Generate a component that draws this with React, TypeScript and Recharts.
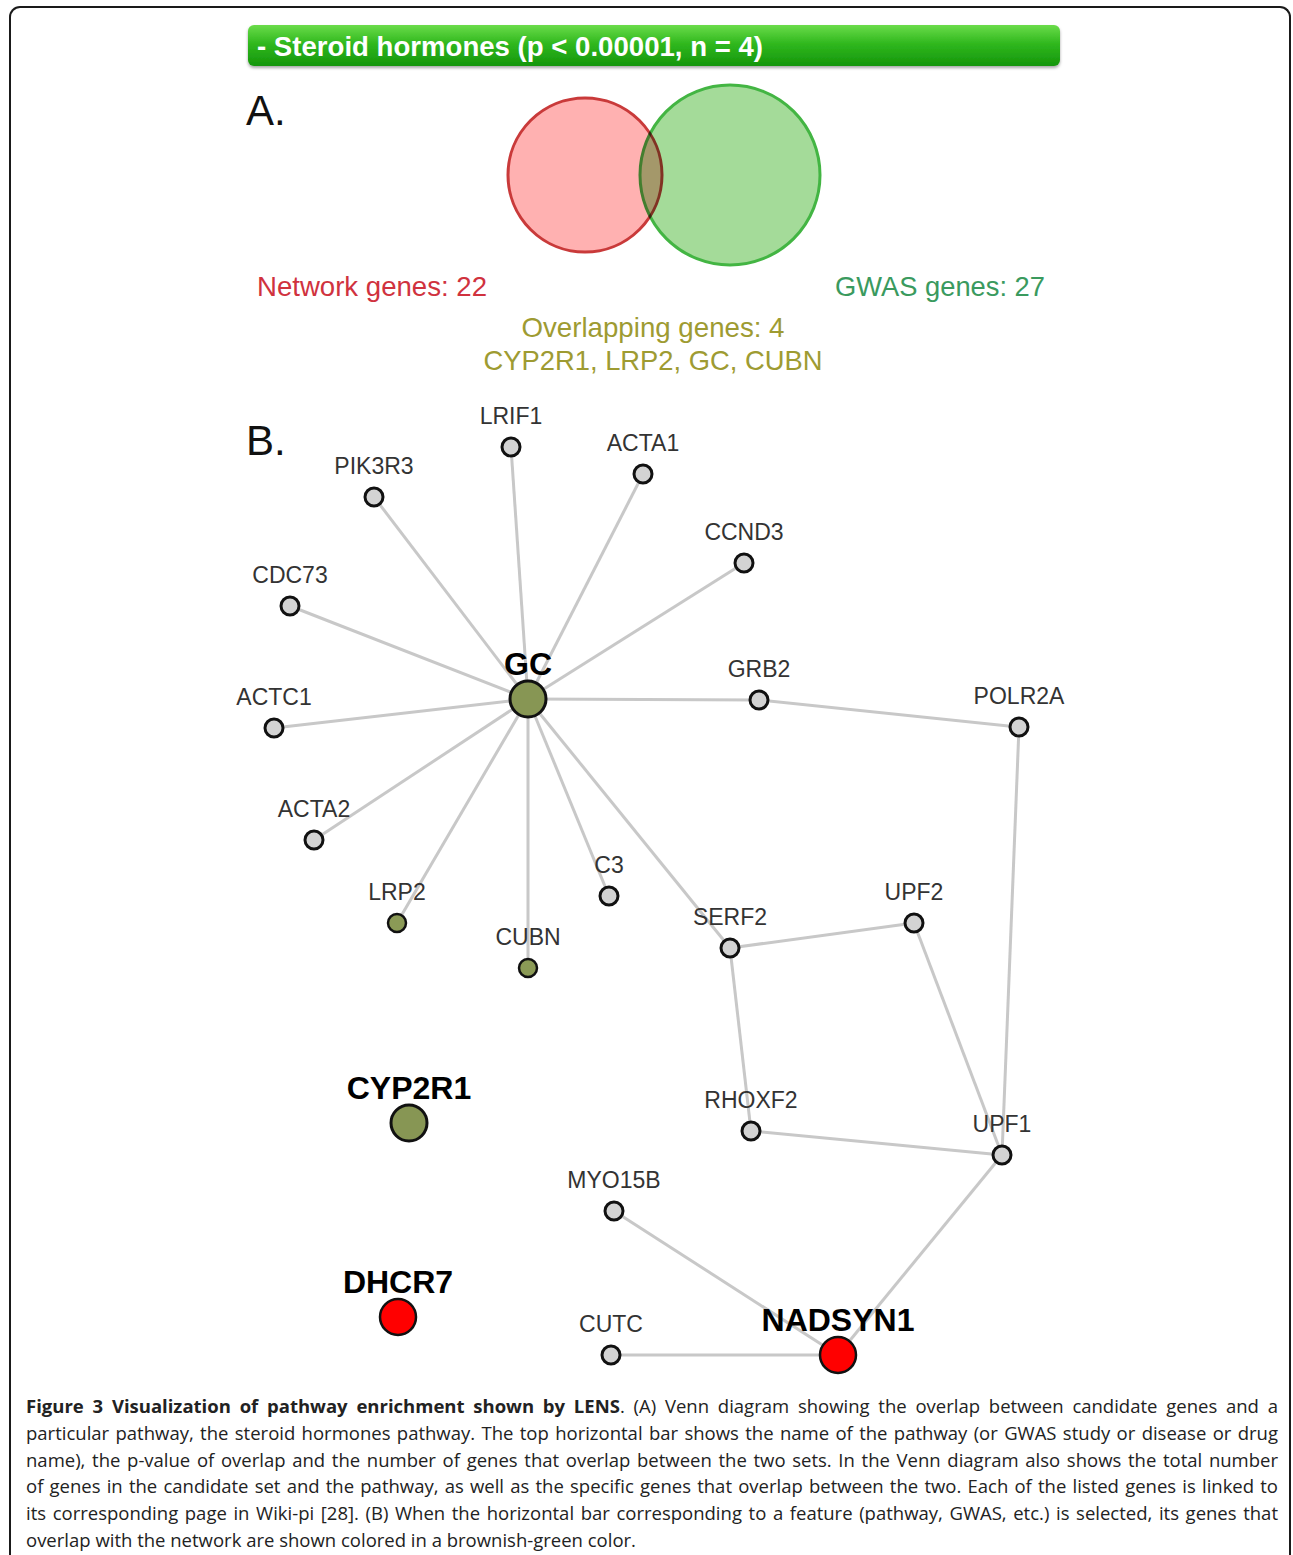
import { Scatter, ScatterChart, XAxis, YAxis } from "recharts";

const PAGE_W = 1293;
const PAGE_H = 1555;

// pathway shown in the top bar
const pathwayName = "Steroid hormones";
const pathwayP = "0.00001";
const pathwayN = 4;

// venn circles (page coordinates)
const vennSets = [
  { id: "network", label: "Network genes", count: 22, x: 585, y: 175, r: 77 },
  { id: "gwas", label: "GWAS genes", count: 27, x: 730, y: 175, r: 90 },
];

const overlapGenes = ["CYP2R1", "LRP2", "GC", "CUBN"];

// network layout
const genes = [
  { name: "LRIF1", x: 511, y: 447, kind: "other" },
  { name: "ACTA1", x: 643, y: 474, kind: "other" },
  { name: "PIK3R3", x: 374, y: 497, kind: "other" },
  { name: "CCND3", x: 744, y: 563, kind: "other" },
  { name: "CDC73", x: 290, y: 606, kind: "other" },
  { name: "GC", x: 528, y: 699, kind: "sharedHub" },
  { name: "GRB2", x: 759, y: 700, kind: "other" },
  { name: "POLR2A", x: 1019, y: 727, kind: "other" },
  { name: "ACTC1", x: 274, y: 728, kind: "other" },
  { name: "ACTA2", x: 314, y: 840, kind: "other" },
  { name: "C3", x: 609, y: 896, kind: "other" },
  { name: "LRP2", x: 397, y: 923, kind: "shared" },
  { name: "UPF2", x: 914, y: 923, kind: "other" },
  { name: "SERF2", x: 730, y: 948, kind: "other" },
  { name: "CUBN", x: 528, y: 968, kind: "shared" },
  { name: "CYP2R1", x: 409, y: 1123, kind: "sharedHub" },
  { name: "RHOXF2", x: 751, y: 1131, kind: "other" },
  { name: "UPF1", x: 1002, y: 1155, kind: "other" },
  { name: "MYO15B", x: 614, y: 1211, kind: "other" },
  { name: "DHCR7", x: 398, y: 1317, kind: "gwas" },
  { name: "CUTC", x: 611, y: 1355, kind: "other" },
  { name: "NADSYN1", x: 838, y: 1355, kind: "gwas" },
];

const links = [
  ["GC", "LRIF1"],
  ["GC", "ACTA1"],
  ["GC", "PIK3R3"],
  ["GC", "CCND3"],
  ["GC", "CDC73"],
  ["GC", "GRB2"],
  ["GC", "ACTC1"],
  ["GC", "ACTA2"],
  ["GC", "LRP2"],
  ["GC", "CUBN"],
  ["GC", "C3"],
  ["GC", "SERF2"],
  ["GRB2", "POLR2A"],
  ["POLR2A", "UPF1"],
  ["SERF2", "UPF2"],
  ["SERF2", "RHOXF2"],
  ["UPF2", "UPF1"],
  ["RHOXF2", "UPF1"],
  ["UPF1", "NADSYN1"],
  ["MYO15B", "NADSYN1"],
  ["CUTC", "NADSYN1"],
];

const captionTitle = "Figure 3 Visualization of pathway enrichment shown by LENS";
const captionLines = [
  ". (A) Venn diagram showing the overlap between candidate genes and a",
  "particular pathway, the steroid hormones pathway. The top horizontal bar shows the name of the pathway (or GWAS study or disease or drug",
  "name), the p-value of overlap and the number of genes that overlap between the two sets. In the Venn diagram also shows the total number",
  "of genes in the candidate set and the pathway, as well as the specific genes that overlap between the two. Each of the listed genes is linked to",
  "its corresponding page in Wiki-pi [28]. (B) When the horizontal bar corresponding to a feature (pathway, GWAS, etc.) is selected, its genes that",
  "overlap with the network are shown colored in a brownish-green color.",
];

const SANS = "'Liberation Sans', Arial, Helvetica, sans-serif";

const NODE_LOOK: Record<string, any> = {
  other: { r: 9, fill: "#d3d3d3", sw: 3, size: 23, weight: 400, color: "#333", dy: 23 },
  shared: { r: 9, fill: "#8b9a56", sw: 2.5, size: 23, weight: 400, color: "#333", dy: 23 },
  sharedHub: { r: 18, fill: "#879654", sw: 3, size: 32, weight: 700, color: "#000", dy: 24 },
  gwas: { r: 18, fill: "#ff0000", sw: 2.5, size: 32, weight: 700, color: "#000", dy: 24 },
};

const VENN_LOOK: Record<string, any> = {
  network: { fill: "#ffb1b1", stroke: "#c93a3a", blend: "normal" },
  gwas: { fill: "#a4db99", stroke: "#43b543", blend: "multiply" },
};

function GeneNode(props: any) {
  const { cx, cy, payload } = props;
  const look = NODE_LOOK[payload.kind];
  return (
    <g>
      <circle cx={cx} cy={cy} r={look.r} fill={look.fill} stroke="#111" strokeWidth={look.sw} />
      <text
        x={cx}
        y={cy - look.dy}
        textAnchor="middle"
        fontSize={look.size}
        fontWeight={look.weight}
        fill={look.color}
        fontFamily={SANS}
      >
        {payload.name}
      </text>
    </g>
  );
}

function VennCircle(props: any) {
  const { cx, cy, payload } = props;
  const look = VENN_LOOK[payload.id];
  return (
    <circle
      cx={cx}
      cy={cy}
      r={payload.r}
      fill={look.fill}
      stroke={look.stroke}
      strokeWidth={3}
      style={{ mixBlendMode: look.blend }}
    />
  );
}

const noDot = () => <g />;

function findGene(name: string) {
  return genes.find((g) => g.name === name)!;
}

export default function App() {
  const net = vennSets[0];
  const gwas = vennSets[1];
  return (
    <div
      style={{
        position: "absolute",
        left: 0,
        top: 0,
        width: PAGE_W,
        height: PAGE_H,
        overflow: "hidden",
        background: "#fff",
      }}
    >
      {/* page frame */}
      <div
        style={{
          position: "absolute",
          left: 9,
          top: 6,
          width: 1282,
          height: 1700,
          boxSizing: "border-box",
          border: "2px solid #1a1a1a",
          borderBottom: "none",
          borderRadius: "11px 11px 0 0",
        }}
      />

      <div style={{ position: "absolute", left: 0, top: 0 }}>
        <ScatterChart width={PAGE_W} height={PAGE_H} margin={{ top: 0, right: 0, bottom: 0, left: 0 }}>
          <XAxis type="number" dataKey="x" domain={[0, PAGE_W]} hide allowDataOverflow />
          <YAxis type="number" dataKey="y" domain={[0, PAGE_H]} reversed hide allowDataOverflow />
          <Scatter data={vennSets} shape={VennCircle} isAnimationActive={false} />
          {links.map(([a, b]) => (
            <Scatter
              key={a + "-" + b}
              data={[findGene(a), findGene(b)]}
              line={{ stroke: "#c8c8c8", strokeWidth: 3 }}
              stroke="#c8c8c8"
              shape={noDot}
              isAnimationActive={false}
            />
          ))}
          <Scatter data={genes} shape={GeneNode} isAnimationActive={false} />
        </ScatterChart>
      </div>

      {/* bar and venn texts */}
      <svg
        width={PAGE_W}
        height={480}
        style={{ position: "absolute", left: 0, top: 0, pointerEvents: "none" }}
      >
        <defs>
          <linearGradient id="barGrad" x1="0" y1="0" x2="0" y2="1">
            <stop offset="0%" stopColor="#6bdc4a" />
            <stop offset="45%" stopColor="#30b81e" />
            <stop offset="100%" stopColor="#15960b" />
          </linearGradient>
          <filter id="barShadow" x="-2%" y="-20%" width="104%" height="160%">
            <feDropShadow dx="0" dy="2" stdDeviation="1.5" floodColor="#000" floodOpacity="0.35" />
          </filter>
        </defs>
        <rect x={248} y={25} width={812} height={41} rx={6} fill="url(#barGrad)" filter="url(#barShadow)" />
        <text
          x={257}
          y={56}
          fontFamily={SANS}
          fontWeight={700}
          fontSize={28}
          fill="#fff"
          textLength={506}
          lengthAdjust="spacingAndGlyphs"
        >
          {`- ${pathwayName} (p < ${pathwayP}, n = ${pathwayN})`}
        </text>

        <text x={246} y={125} fontFamily={SANS} fontSize={42} fill="#111">
          A.
        </text>
        <text x={246} y={455} fontFamily={SANS} fontSize={42} fill="#111">
          B.
        </text>

        <text
          x={257}
          y={296}
          fontFamily={SANS}
          fontSize={28}
          fill="#d0323e"
          textLength={230}
          lengthAdjust="spacingAndGlyphs"
        >
          {`${net.label}: ${net.count}`}
        </text>
        <text
          x={835}
          y={296}
          fontFamily={SANS}
          fontSize={28}
          fill="#3a9a5e"
          textLength={210}
          lengthAdjust="spacingAndGlyphs"
        >
          {`${gwas.label}: ${gwas.count}`}
        </text>
        <text
          x={653}
          y={337}
          textAnchor="middle"
          fontFamily={SANS}
          fontSize={28}
          fill="#9e9b32"
          textLength={263}
          lengthAdjust="spacingAndGlyphs"
        >
          {`Overlapping genes: ${overlapGenes.length}`}
        </text>
        <text
          x={653}
          y={370}
          textAnchor="middle"
          fontFamily={SANS}
          fontSize={28}
          fill="#9e9b32"
          textLength={339}
          lengthAdjust="spacingAndGlyphs"
        >
          {overlapGenes.join(", ")}
        </text>
      </svg>

      {/* caption */}
      <div
        style={{
          position: "absolute",
          left: 26,
          top: 1393,
          width: 1252,
          fontFamily: "'Open Sans', 'Noto Sans', sans-serif",
          fontSize: 18.5,
          lineHeight: "26.8px",
          color: "#222",
        }}
      >
        {captionLines.map((line, i) => {
          const last = i === captionLines.length - 1;
          return (
            <div
              key={i}
              style={{
                whiteSpace: "nowrap",
                textAlign: "justify",
                textAlignLast: last ? "left" : "justify",
              }}
            >
              {i === 0 && <b>{captionTitle}</b>}
              {line}
            </div>
          );
        })}
      </div>
    </div>
  );
}
